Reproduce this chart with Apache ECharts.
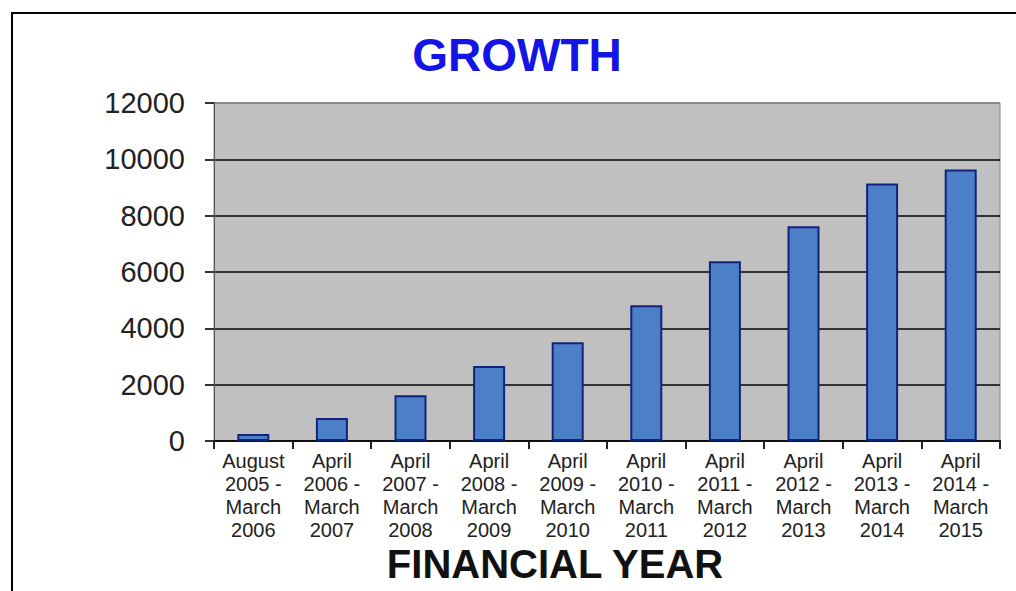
<!DOCTYPE html>
<html>
<head>
<meta charset="utf-8">
<script src="https://cdn.jsdelivr.net/npm/echarts@6/dist/echarts.min.js"></script>
<style>
html,body{margin:0;padding:0;background:#fff;}
#main{width:1016px;height:591px;}
</style>
</head>
<body>
<div id="main"></div>
<script>
const categories = [
  "August\n2005 -\nMarch\n2006",
  "April\n2006 -\nMarch\n2007",
  "April\n2007 -\nMarch\n2008",
  "April\n2008 -\nMarch\n2009",
  "April\n2009 -\nMarch\n2010",
  "April\n2010 -\nMarch\n2011",
  "April\n2011 -\nMarch\n2012",
  "April\n2012 -\nMarch\n2013",
  "April\n2013 -\nMarch\n2014",
  "April\n2014 -\nMarch\n2015"
];
const growthValues = [250, 820, 1620, 2660, 3510, 4820, 6380, 7620, 9140, 9640];
const yTicks = { min: 0, max: 12000, interval: 2000 };
const chartTitle = "GROWTH";
const xTitle = "FINANCIAL YEAR";

const font = "'Liberation Sans', Arial, sans-serif";
const chart = echarts.init(document.getElementById('main'), null, { renderer: 'svg' });
chart.setOption({
  backgroundColor: '#ffffff',
  animation: false,
  grid: {
    left: 214, right: 16, top: 103, bottom: 150,
    show: true, backgroundColor: '#c0c0c0', borderColor: '#8a8a8a', borderWidth: 1
  },
  xAxis: {
    type: 'category',
    data: categories,
    axisLine: { show: true, lineStyle: { color: '#111', width: 2 } },
    axisTick: { show: true, length: 8, lineStyle: { color: '#222', width: 2 } },
    axisLabel: {
      interval: 0, margin: 8, color: '#222', fontFamily: font, fontSize: 20, lineHeight: 23
    },
    splitLine: { show: false }
  },
  yAxis: {
    type: 'value',
    min: yTicks.min, max: yTicks.max, interval: yTicks.interval,
    axisLine: { show: true, lineStyle: { color: '#555', width: 1 } },
    axisTick: { show: true, length: 9, lineStyle: { color: '#333', width: 2 } },
    axisLabel: {
      margin: 29, color: '#222', fontFamily: font, fontSize: 29,
      formatter: function (v) { return String(v); }
    },
    splitLine: {
      show: true,
      lineStyle: { color: ['#333', '#333', '#333', '#333', '#333', '#333', '#8a8a8a'], width: 2 }
    }
  },
  series: [{
    type: 'bar',
    data: growthValues,
    barWidth: 32,
    itemStyle: { color: '#4d7fc6', borderColor: '#12237e', borderWidth: 2 }
  }],
  graphic: [
    {
      type: 'rect', silent: true, z: 100,
      shape: { x: 12, y: 13, width: 1200, height: 800 },
      style: { fill: 'none', stroke: '#000', lineWidth: 2 }
    },
    {
      type: 'text', x: 517, y: 55, z: 100,
      style: {
        text: chartTitle, fill: '#1414e6', font: "bold 46px " + font,
        textAlign: 'center', textVerticalAlign: 'middle'
      }
    },
    {
      type: 'text', x: 555, y: 564, z: 100,
      style: {
        text: xTitle, fill: '#111', font: "bold 40px " + font,
        textAlign: 'center', textVerticalAlign: 'middle'
      }
    }
  ]
});
</script>
</body>
</html>
